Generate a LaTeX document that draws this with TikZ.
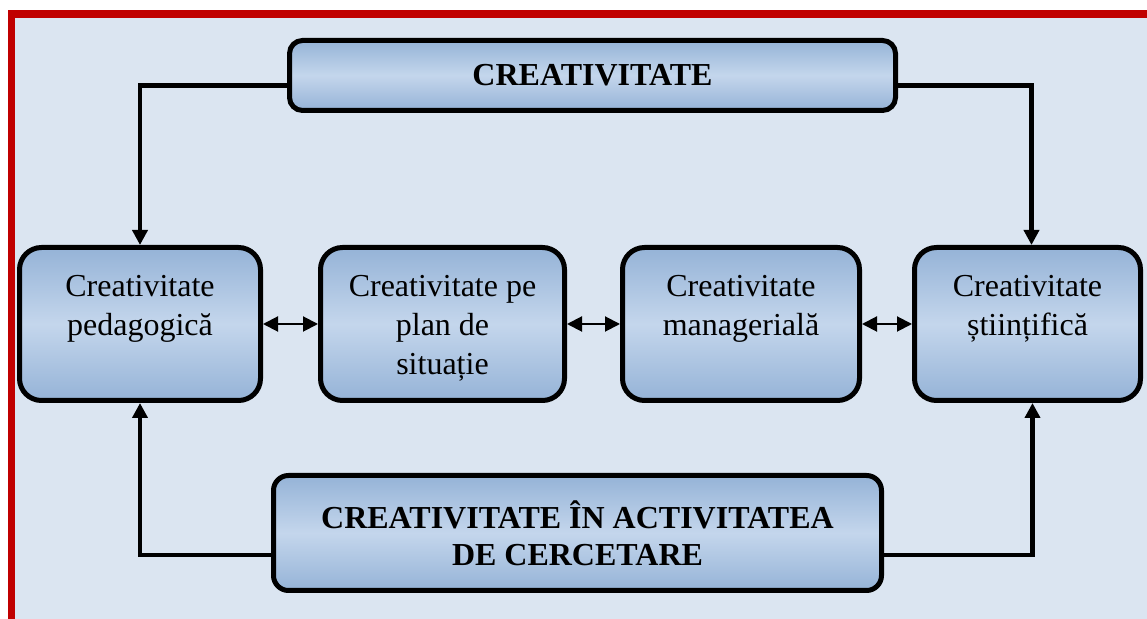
\documentclass[tikz,border=0pt]{standalone}
\usepackage{fontspec}
\setmainfont{Liberation Serif}
\usetikzlibrary{arrows.meta}

\definecolor{pagebg}{RGB}{219,229,241}
\definecolor{framered}{RGB}{192,0,0}
\definecolor{boxedge}{RGB}{149,179,215}
\definecolor{boxmid}{RGB}{196,214,236}

\begin{document}
\begin{tikzpicture}[x=0.5pt, y=-0.5pt,
    cbox/.style={draw=black, line width=2.5pt, rounded corners=11pt,
      top color=boxedge, bottom color=boxedge, middle color=boxmid,
      minimum height=76.5pt, inner sep=0pt},
    ctext/.style={anchor=north, align=center, inner sep=0pt,
      font=\fontsize{16}{19.5}\selectfont},
    ttext/.style={font=\bfseries\fontsize{16}{18.5}\selectfont, align=center},
    conn/.style={line width=2.2pt, -{Triangle[width=7.5pt,length=7.5pt]}},
    dbl/.style={line width=1pt,
      {Triangle[width=7.5pt,length=7.5pt]}-{Triangle[width=7.5pt,length=7.5pt]}}]
    \useasboundingbox (0,0) rectangle (1147,619);

    % frame
    \fill [framered] (8,10) rectangle (1147,619);
    \fill [pagebg] (15,18) rectangle (1147,619);

    % the four kinds
    \node [cbox, minimum width=120.5pt] (ped) at (140,324) {};
    \node [cbox, minimum width=122pt] (sit) at (442.5,324) {};
    \node [cbox, minimum width=118.5pt] (man) at (741,324) {};
    \node [cbox, minimum width=113pt] (sti) at (1027.5,324) {};

    \node [ctext] (pedtxt) at ([yshift=-15pt]ped.north) {Creativitate\\pedagogică};
    \node [ctext] (sittxt) at ([yshift=-15pt]sit.north) {Creativitate pe\\plan de\\situație};
    \node [ctext] (mantxt) at ([yshift=-15pt]man.north) {Creativitate\\managerială};
    \node [ctext] (stitxt) at ([yshift=-15pt]sti.north) {Creativitate\\științifică};

    % top and bottom
    \node [cbox, ttext, rounded corners=6.5pt, minimum width=303pt,
      minimum height=35pt] (cre) at (592.5,75.5) {CREATIVITATE};
    \node [cbox, ttext, rounded corners=7.5pt, minimum width=304pt,
      minimum height=57.5pt] (cer) at (577.5,533)
      {CREATIVITATE ÎN ACTIVITATEA\\DE CERCETARE};

    % links
    \draw [conn] ([yshift=-5pt]cre.west) -| (ped.north);
    \draw [conn] ([yshift=-5pt]cre.east) -| ([xshift=2pt]sti.north);
    \draw [conn] ([yshift=-11pt]cer.west) -| (ped.south);
    \draw [conn] ([yshift=-11pt]cer.east) -| ([xshift=2.5pt]sti.south);

    \draw [dbl] (ped.east) -- (sit.west);
    \draw [dbl] (sit.east) -- (man.west);
    \draw [dbl] (man.east) -- (sti.west);

\end{tikzpicture}
\end{document}
